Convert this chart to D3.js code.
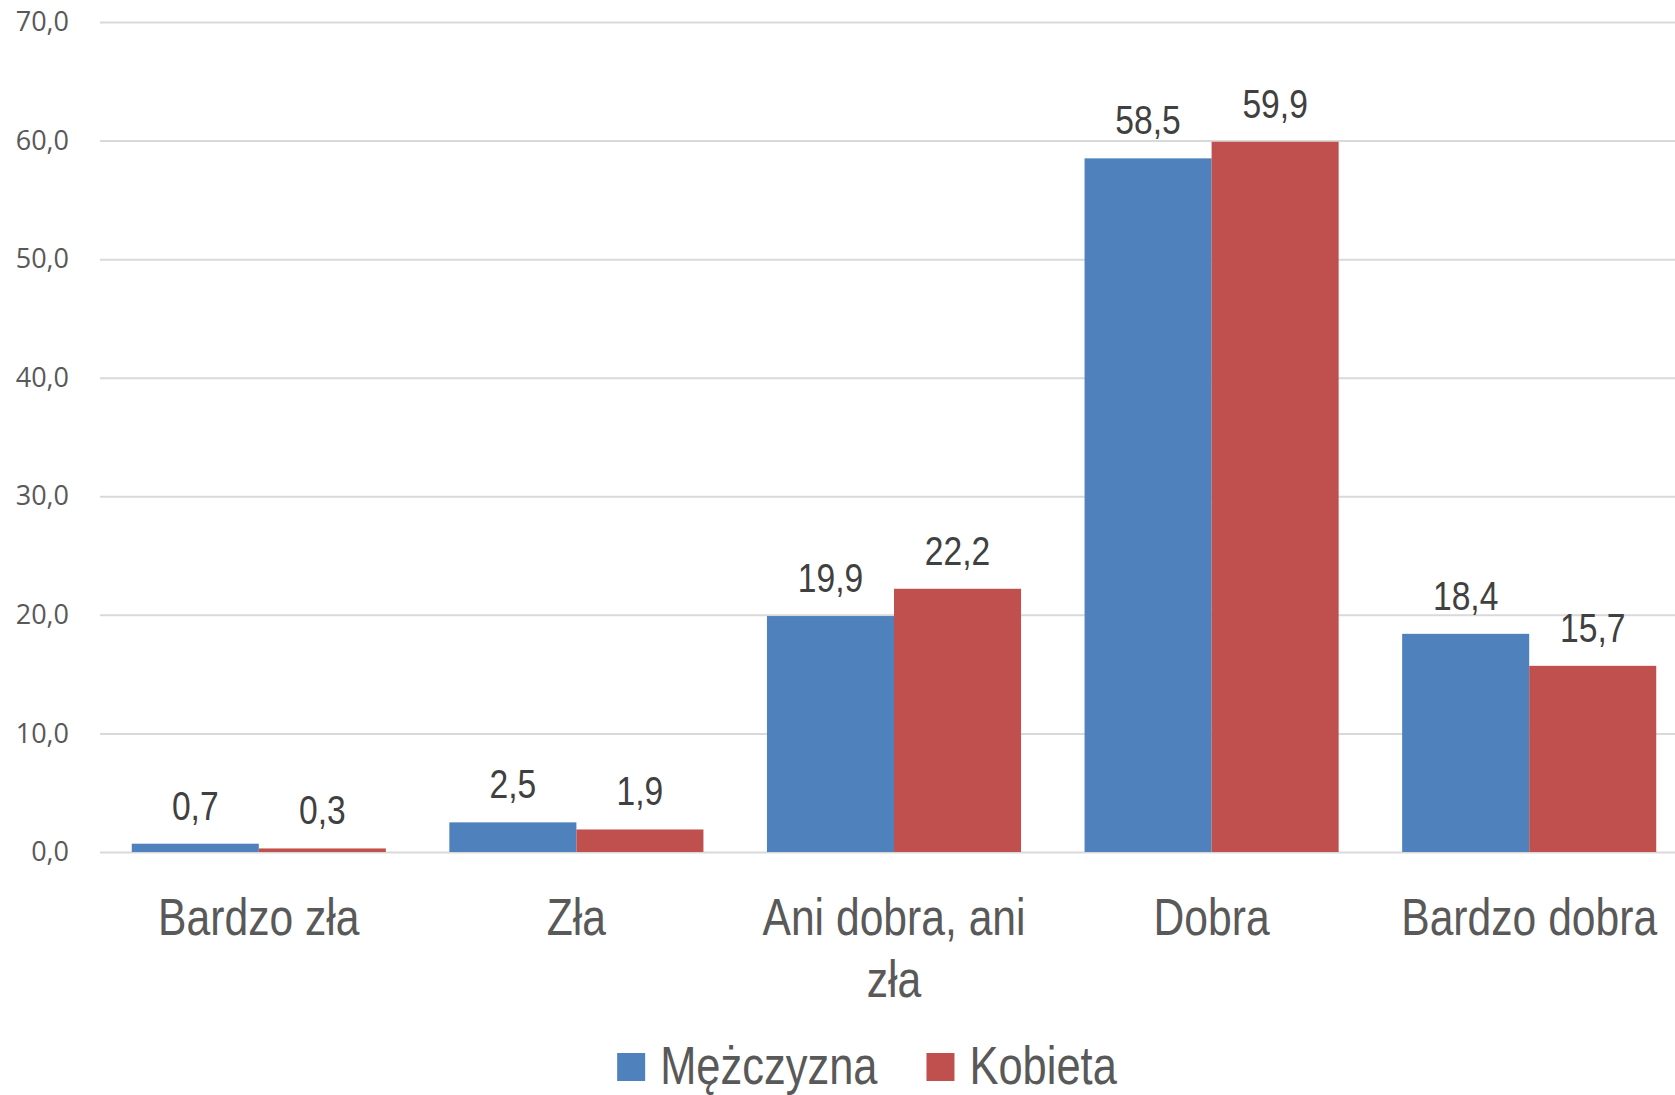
<!DOCTYPE html>
<html>
<head>
<meta charset="utf-8">
<script src="https://cdn.jsdelivr.net/npm/d3@7"></script>
<style>
  html, body { margin: 0; padding: 0; background: #fff; }
  .grid line { stroke: #d9d9d9; stroke-width: 2; }
  .grid path { display: none; }
  .y-axis text { font-family: "Open Sans", sans-serif; font-size: 27px; fill: #595959; }
  .label { font-family: "Liberation Sans", Arial, sans-serif; font-size: 41px; fill: #404040; }
  .cat { font-family: "Liberation Sans", Arial, sans-serif; font-size: 52px; fill: #595959; }
  .legend text { font-family: "Liberation Sans", Arial, sans-serif; font-size: 53px; fill: #595959; }
</style>
</head>
<body>
<script>
// data
const categories = ['Bardzo zła', 'Zła', 'Ani dobra, ani zła', 'Dobra', 'Bardzo dobra'];
const seriesNames = ['Mężczyzna', 'Kobieta'];
const men = [0.7, 2.5, 19.9, 58.5, 18.4];
const women = [0.3, 1.9, 22.2, 59.9, 15.7];
const yTicks = [0, 10, 20, 30, 40, 50, 60, 70];
const colors = ['#4f81bd', '#c0504d'];

const width = 1675;
const height = 1095;
const plot = { left: 100, right: 1688, top: 22, bottom: 852 };
const narrow = 0.82; // squeeze factor to mimic a narrow font

const svg = d3.select('body')
  .append('svg')
  .attr('width', width)
  .attr('height', height);

const x = d3.scaleBand()
  .domain(categories)
  .range([plot.left, plot.right])
  .paddingInner(0.2)
  .paddingOuter(0.1);

const xSub = d3.scaleBand()
  .domain(seriesNames)
  .range([0, x.bandwidth()]);

const y = d3.scaleLinear()
  .domain([0, 70])
  .range([plot.bottom, plot.top]);

const fmt = (v) => d3.format('.1f')(v).replace('.', ',');

// gridlines
svg.append('g')
  .attr('class', 'grid')
  .attr('transform', `translate(${plot.left},0)`)
  .call(d3.axisLeft(y).tickValues(yTicks).tickSize(-(width - plot.left)).tickFormat(''));

// y axis labels
const yAxis = svg.append('g')
  .attr('class', 'y-axis')
  .attr('transform', `translate(${plot.left},0)`)
  .call(d3.axisLeft(y).tickValues(yTicks).tickSize(0).tickPadding(31).tickFormat(fmt));
yAxis.select('.domain').remove();

const rows = categories.map((c, i) => ({ cat: c, values: [men[i], women[i]] }));

const groups = svg.selectAll('.group')
  .data(rows)
  .enter()
  .append('g')
  .attr('class', 'group')
  .attr('transform', (d) => `translate(${x(d.cat)},0)`);

const cells = (d) => d.values.map((v, j) => ({ name: seriesNames[j], v, j }));

groups.selectAll('rect')
  .data(cells)
  .enter()
  .append('rect')
  .attr('x', (d) => xSub(d.name))
  .attr('y', (d) => y(d.v))
  .attr('width', xSub.bandwidth())
  .attr('height', (d) => y(0) - y(d.v))
  .attr('fill', (d) => colors[d.j]);

groups.selectAll('.label')
  .data(cells)
  .enter()
  .append('g')
  .attr('transform', (d) => `translate(${xSub(d.name) + xSub.bandwidth() / 2},${y(d.v) - 24}) scale(${narrow},1)`)
  .append('text')
  .attr('class', 'label')
  .attr('text-anchor', 'middle')
  .text((d) => fmt(d.v));

// category labels with wrapping
const catText = svg.selectAll('.catg')
  .data(categories)
  .enter()
  .append('g')
  .attr('transform', (d) => `translate(${x(d) + x.bandwidth() / 2},935) scale(${narrow},1)`)
  .append('text')
  .attr('class', 'cat')
  .attr('text-anchor', 'middle');

catText.each(function (d) {
  const t = d3.select(this);
  const words = d.split(' ');
  const maxW = 300 / narrow;
  let line = [];
  let tspan = t.append('tspan').attr('x', 0).attr('dy', 0);
  words.forEach((w) => {
    line.push(w);
    tspan.text(line.join(' '));
    if (tspan.node().getComputedTextLength() > maxW && line.length > 1) {
      line.pop();
      tspan.text(line.join(' '));
      line = [w];
      tspan = t.append('tspan').attr('x', 0).attr('dy', 62).text(w);
    }
  });
});

// legend
const legend = svg.append('g').attr('class', 'legend');
let lx = 0;
seriesNames.forEach((name, i) => {
  const item = legend.append('g').attr('transform', `translate(${lx},0)`);
  item.append('rect')
    .attr('x', 0)
    .attr('y', -31)
    .attr('width', 28)
    .attr('height', 28)
    .attr('fill', colors[i]);
  const txt = item.append('g')
    .attr('transform', `translate(43,0) scale(${narrow},1)`)
    .append('text')
    .text(name);
  lx += 43 + txt.node().getComputedTextLength() * narrow + 49;
});
const legW = lx - 49;
legend.attr('transform', `translate(${867 - legW / 2},1084)`);
</script>
</body>
</html>
